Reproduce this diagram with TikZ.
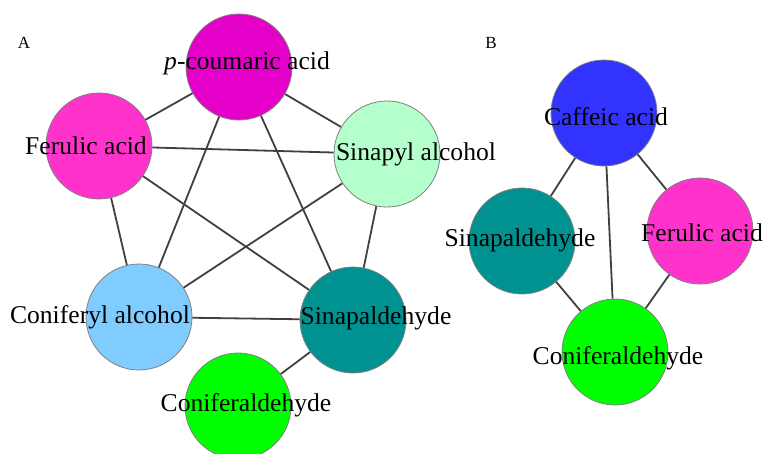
\documentclass[tikz,border=0pt]{standalone}
\usepackage{fontspec}
\setmainfont{Liberation Serif}
\usepackage{tikz}
\usetikzlibrary{positioning}
\definecolor{pcoucol}{RGB}{228,0,200}
\definecolor{fercol}{RGB}{255,51,204}
\definecolor{sinalccol}{RGB}{180,255,204}
\definecolor{conalccol}{RGB}{128,204,255}
\definecolor{sinaldcol}{RGB}{0,145,145}
\definecolor{conaldcol}{RGB}{0,255,0}
\definecolor{cafcol}{RGB}{51,51,255}
\tikzset{
  compound/.style={circle,draw=black!50,line width=0.8pt,minimum size=106pt,inner sep=0pt},
  cpdname/.style={font=\fontsize{25.6}{30}\selectfont,inner sep=0pt},
  panelmark/.style={font=\fontsize{17}{20}\selectfont,inner sep=0pt},
  edgeline/.style={draw=black!75,line width=1.8pt},
}

\begin{document}
\begin{tikzpicture}[x=1pt,y=-1pt]
    \useasboundingbox (0,0) rectangle (763,453);
    % panel A
    \node[compound,fill=pcoucol] (pcou) at (239,67) {};
    \node[compound,fill=fercol] (fer) at (99,146) {};
    \node[compound,fill=sinalccol] (sinalc) at (387,154) {};
    \node[compound,fill=conalccol] (conalc) at (139,317) {};
    \node[compound,fill=sinaldcol] (sinald) at (353,320) {};
    \node[compound,fill=conaldcol] (conald) at (238,406) {};
    \draw[edgeline] (pcou) -- (fer);
    \draw[edgeline] (pcou) -- (sinalc);
    \draw[edgeline] (pcou) -- (conalc);
    \draw[edgeline] (pcou) -- (sinald);
    \draw[edgeline] (fer) -- (sinalc);
    \draw[edgeline] (fer) -- (conalc);
    \draw[edgeline] (fer) -- (sinald);
    \draw[edgeline] (sinalc) -- (conalc);
    \draw[edgeline] (sinalc) -- (sinald);
    \draw[edgeline] (conalc) -- (sinald);
    \draw[edgeline] (sinald) -- (conald);
    \node[cpdname] (pcouL) at (247,63) {\textit{p}-coumaric acid};
    \node[cpdname] (ferL) at (86,146) {Ferulic acid};
    \node[cpdname] (sinalcL) at (416,154) {Sinapyl alcohol};
    \node[cpdname] (conalcL) at (100,317) {Coniferyl alcohol};
    \node[cpdname] (sinaldL) at (376,318) {Sinapaldehyde};
    \node[cpdname] (conaldL) at (246,405) {Coniferaldehyde};
    \node[panelmark] (A) at (24,43) {A};
    % panel B
    \node[compound,fill=cafcol] (caf) at (604,113) {};
    \node[compound,fill=sinaldcol] (sinaldB) at (522,241) {};
    \node[compound,fill=fercol] (ferB) at (700,231) {};
    \node[compound,fill=conaldcol] (conaldB) at (615,352) {};
    \draw[edgeline] (caf) -- (sinaldB);
    \draw[edgeline] (caf) -- (ferB);
    \draw[edgeline] (caf) -- (conaldB);
    \draw[edgeline] (sinaldB) -- (conaldB);
    \draw[edgeline] (ferB) -- (conaldB);
    \node[cpdname] (cafL) at (606,117) {Caffeic acid};
    \node[cpdname] (sinaldBL) at (520,240) {Sinapaldehyde};
    \node[cpdname] (ferBL) at (702,233) {Ferulic acid};
    \node[cpdname] (conaldBL) at (618,358) {Coniferaldehyde};
    \node[panelmark] (B) at (491,43) {B};
\end{tikzpicture}
\end{document}
